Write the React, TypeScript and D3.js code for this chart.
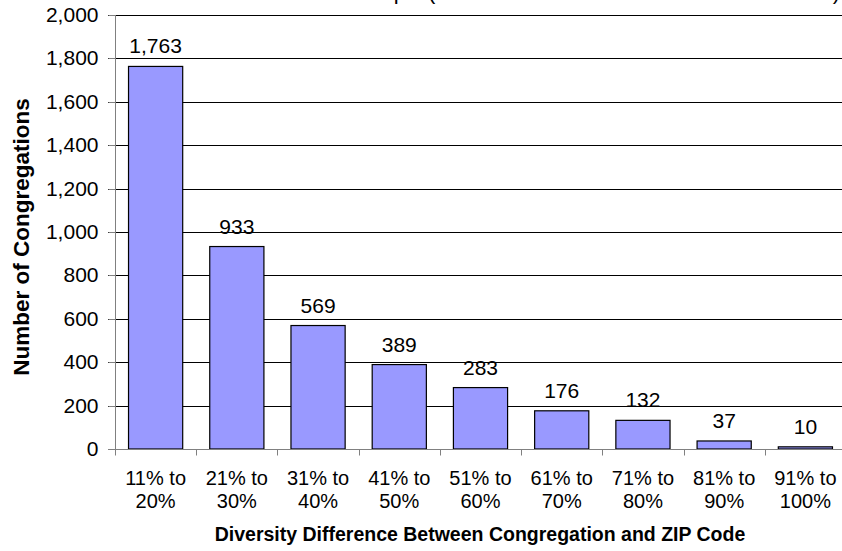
import * as d3 from 'd3';
import { useEffect, useRef } from 'react';

const categories = [
    ['11% to', '20%'],
    ['21% to', '30%'],
    ['31% to', '40%'],
    ['41% to', '50%'],
    ['51% to', '60%'],
    ['61% to', '70%'],
    ['71% to', '80%'],
    ['81% to', '90%'],
    ['91% to', '100%'],
];
const counts = [1763, 933, 569, 389, 283, 176, 132, 37, 10];
const yTicks = [0, 200, 400, 600, 800, 1000, 1200, 1400, 1600, 1800, 2000];

const xTitle = 'Diversity Difference Between Congregation and ZIP Code';
const yTitle = 'Number of Congregations';
const titleLeft = 'Distribution of the Racial Gap';
const titleRight = '(Absolute Difference from the ZIP Code)';

const FONT = '"Liberation Sans", Arial, sans-serif';

export default function App() {
    const ref = useRef<SVGSVGElement | null>(null);

    useEffect(() => {
        const svg = d3.select(ref.current);
        svg.selectAll('*').remove();

        const width = 842;
        const height = 551;
        const margin = { top: 15, right: -4, bottom: 102, left: 115 };

        const keys = categories.map(c => c.join(' '));
        const x = d3.scaleBand()
            .domain(keys)
            .range([margin.left, width - margin.right])
            .padding(0);

        const y = d3.scaleLinear()
            .domain([0, 2000])
            .range([height - margin.bottom, margin.top]);

        svg.attr('width', width).attr('height', height)
            .style('font-family', FONT);

        // title sits above the frame, only its descenders show
        svg.append('text')
            .attr('x', 406).attr('y', -0.6)
            .attr('text-anchor', 'end')
            .attr('font-size', 22)
            .text(titleLeft);
        svg.append('text')
            .attr('x', 428).attr('y', -0.6)
            .attr('font-size', 22)
            .attr('textLength', 412)
            .attr('lengthAdjust', 'spacing')
            .text(titleRight);

        // gridlines
        svg.append('g')
            .selectAll('line')
            .data(yTicks.filter(d => d > 0))
            .enter()
            .append('line')
            .attr('x1', margin.left - 7)
            .attr('x2', width)
            .attr('y1', d => Math.round(y(d)) + 0.5)
            .attr('y2', d => Math.round(y(d)) + 0.5)
            .attr('stroke', '#000')
            .attr('stroke-width', 1);

        // y axis
        const yAxis = svg.append('g')
            .attr('transform', `translate(${margin.left + 0.5},0)`)
            .call(d3.axisLeft(y).tickValues(yTicks).tickSize(7).tickPadding(10).tickFormat(d3.format(',')));
        yAxis.select('.domain').attr('stroke', '#808080').attr('d', `M0,${y(2000)}V${y(0)}`);
        yAxis.selectAll('.tick line').attr('stroke', '#808080');
        yAxis.selectAll('.tick').attr('transform', (d: any) => `translate(0,${Math.round(y(d)) + 0.5})`);
        yAxis.selectAll('text')
            .attr('font-size', 21)
            .attr('font-family', FONT)
            .attr('fill', '#000');

        // bars
        const barW = x.bandwidth() * 0.667;
        svg.append('g')
            .selectAll('rect')
            .data(counts)
            .enter()
            .append('rect')
            .attr('x', (d, i) => x(keys[i])! + (x.bandwidth() - barW) / 2)
            .attr('y', d => y(d))
            .attr('width', barW)
            .attr('height', d => y(0) - y(d))
            .attr('fill', '#9999FF')
            .attr('stroke', '#000')
            .attr('stroke-width', 1.2);

        // value labels
        svg.append('g')
            .selectAll('text')
            .data(counts)
            .enter()
            .append('text')
            .attr('x', (d, i) => x(keys[i])! + x.bandwidth() / 2)
            .attr('y', d => y(d) - 13)
            .attr('text-anchor', 'middle')
            .attr('font-size', 21)
            .text(d => d3.format(',')(d));

        // x axis line and ticks
        const y0 = Math.round(y(0)) + 0.5;
        svg.append('line')
            .attr('x1', margin.left - 7).attr('x2', width)
            .attr('y1', y0).attr('y2', y0)
            .attr('stroke', '#808080');
        svg.append('g')
            .selectAll('line')
            .data(keys)
            .enter()
            .append('line')
            .attr('x1', d => Math.round(x(d)!) + 0.5)
            .attr('x2', d => Math.round(x(d)!) + 0.5)
            .attr('y1', y0)
            .attr('y2', y0 + 6)
            .attr('stroke', '#808080');

        // category labels
        const cat = svg.append('g')
            .selectAll('text')
            .data(categories)
            .enter()
            .append('text')
            .attr('text-anchor', 'middle')
            .attr('font-size', 20);
        cat.append('tspan')
            .attr('x', (d, i) => x(keys[i])! + x.bandwidth() / 2)
            .attr('y', 485)
            .text(d => d[0]);
        cat.append('tspan')
            .attr('x', (d, i) => x(keys[i])! + x.bandwidth() / 2)
            .attr('y', 508)
            .text(d => d[1]);

        // axis titles
        svg.append('text')
            .attr('x', 480).attr('y', 541)
            .attr('text-anchor', 'middle')
            .attr('font-size', 19.5)
            .attr('font-weight', 'bold')
            .text(xTitle);
        svg.append('text')
            .attr('transform', `translate(29,237) rotate(-90)`)
            .attr('text-anchor', 'middle')
            .attr('font-size', 22.5)
            .attr('font-weight', 'bold')
            .text(yTitle);
    }, []);

    return <svg ref={ref} style={{ position: 'absolute', left: 0, top: 0, display: 'block' }}></svg>;
}
